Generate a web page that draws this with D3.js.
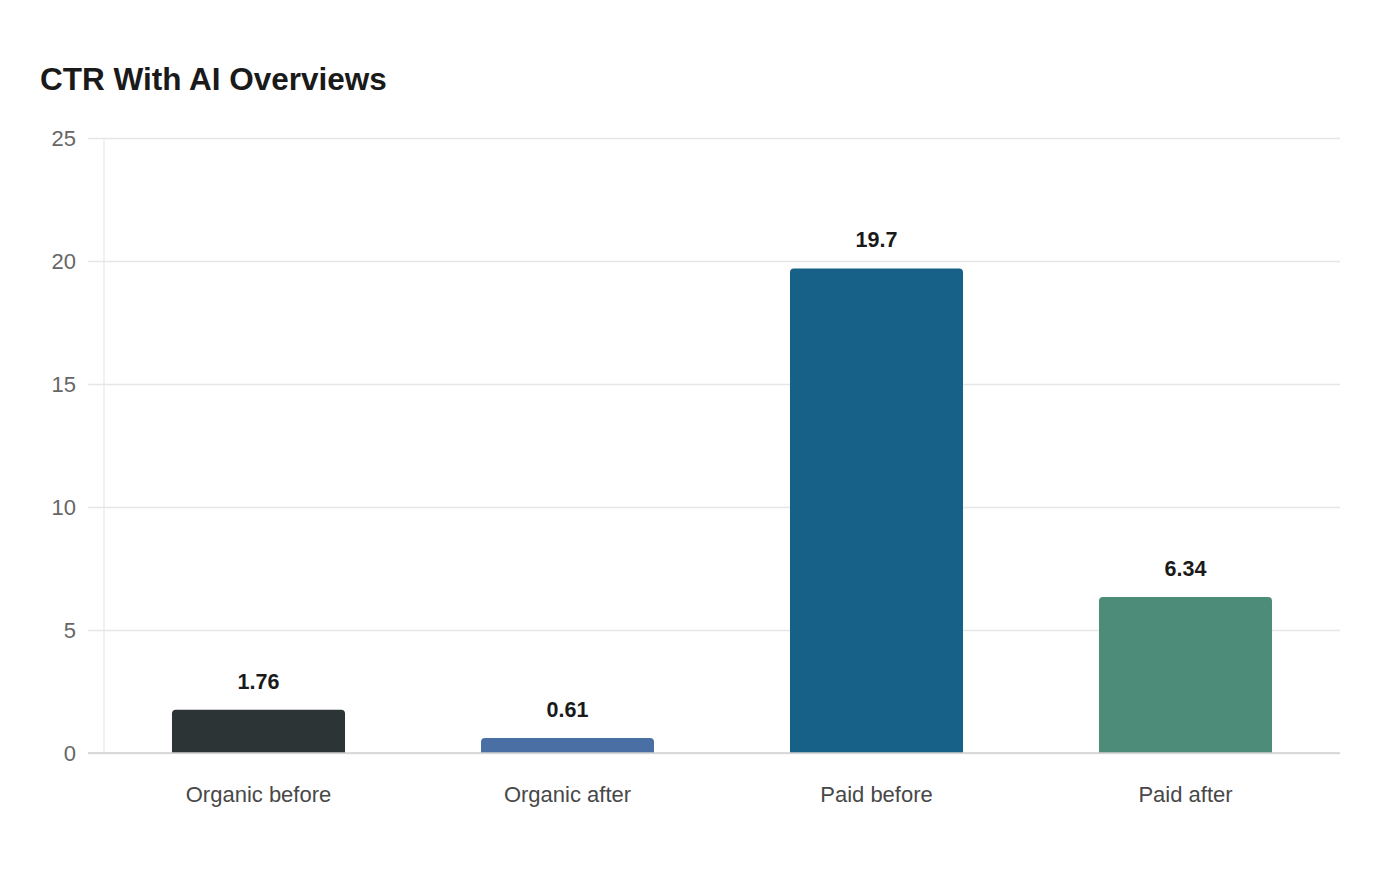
<!DOCTYPE html>
<html>
<head>
<meta charset="utf-8">
<script src="https://cdn.jsdelivr.net/npm/d3@7"></script>
<style>
  body { margin: 0; background: #fff; }
  svg { font-family: "Liberation Sans", Arial, sans-serif; }
</style>
</head>
<body>
<svg id="chart" width="1400" height="880"></svg>
<script>
// Chart data
var categories = ["Organic before", "Organic after", "Paid before", "Paid after"];
var values = [1.76, 0.61, 19.7, 6.34];
var barColors = ["#2d3436", "#4a6fa5", "#176087", "#4e8c7a"];
var yTicks = [0, 5, 10, 15, 20, 25];

var W = 1400, H = 880;
var m = {top: 138, right: 60, bottom: 127, left: 104};

var svg = d3.select("#chart");

// Title
svg.append("text")
  .attr("x", 40)
  .attr("y", 90)
  .style("font-size", "31.5px")
  .style("font-weight", "bold")
  .style("fill", "#1a1a1a")
  .text("CTR With AI Overviews");

var x = d3.scaleBand()
  .domain(categories)
  .range([m.left, W - m.right])
  .paddingInner(0.44)
  .paddingOuter(0.22);

var y = d3.scaleLinear()
  .domain([0, 25])
  .range([H - m.bottom, m.top]);

// Gridlines + y labels
var yAxis = svg.append("g")
  .attr("class", "y-axis")
  .attr("transform", translate(m.left, 0))
  .call(d3.axisLeft(y).tickValues(yTicks).tickSize(0))
  ;
yAxis.select(".domain").remove();
yAxis.selectAll(".tick line")
  .attr("x1", -16)
  .attr("x2", W - m.right - m.left)
  .style("stroke", "#e6e6e6")
  .style("stroke-width", 1.3);
yAxis.selectAll(".tick text")
  .attr("x", -28)
  .style("font-size", "22px")
  .style("fill", "#666")
  .style("font-family", "Liberation Sans, Arial, sans-serif");

// Vertical axis line
svg.append("line")
  .attr("x1", m.left).attr("x2", m.left)
  .attr("y1", y(25)).attr("y2", y(0))
  .style("stroke", "#e3e3e3")
  .style("stroke-width", 1);

// Bars with rounded top corners
var r = 4;
function barPath(d, i) {
  var x0 = x(categories[i]), w = x.bandwidth();
  var top = y(d), bot = y(0);
  var rr = Math.min(r, (bot - top));
  return "M" + x0 + "," + bot +
    "V" + (top + rr) +
    "Q" + x0 + "," + top + " " + (x0 + rr) + "," + top +
    "H" + (x0 + w - rr) +
    "Q" + (x0 + w) + "," + top + " " + (x0 + w) + "," + (top + rr) +
    "V" + bot + "Z";
}

svg.append("g").selectAll("path.bar")
  .data(values)
  .enter().append("path")
  .attr("class", "bar")
  .attr("d", barPath)
  .style("fill", function(d, i) { return barColors[i]; });

// Baseline
svg.append("line")
  .attr("x1", m.left - 16).attr("x2", W - m.right)
  .attr("y1", y(0)).attr("y2", y(0))
  .style("stroke", "#d0d0d0")
  .style("stroke-width", 1.5);

// Value labels
svg.append("g").selectAll("text.val")
  .data(values)
  .enter().append("text")
  .attr("class", "val")
  .attr("x", function(d, i) { return x(categories[i]) + x.bandwidth() / 2; })
  .attr("y", function(d) { return y(d) - 21; })
  .attr("text-anchor", "middle")
  .style("font-size", "21.5px")
  .style("font-weight", "bold")
  .style("fill", "#1a1a1a")
  .text(function(d) { return d; });

// Category labels
svg.append("g").selectAll("text.cat")
  .data(categories)
  .enter().append("text")
  .attr("class", "cat")
  .attr("x", function(d) { return x(d) + x.bandwidth() / 2; })
  .attr("y", y(0) + 49)
  .attr("text-anchor", "middle")
  .style("font-size", "22px")
  .style("fill", "#484848")
  .text(function(d) { return d; });

function translate(a, b) {
  return "translate(" + a + " " + b + ")";
}
</script>
</body>
</html>
